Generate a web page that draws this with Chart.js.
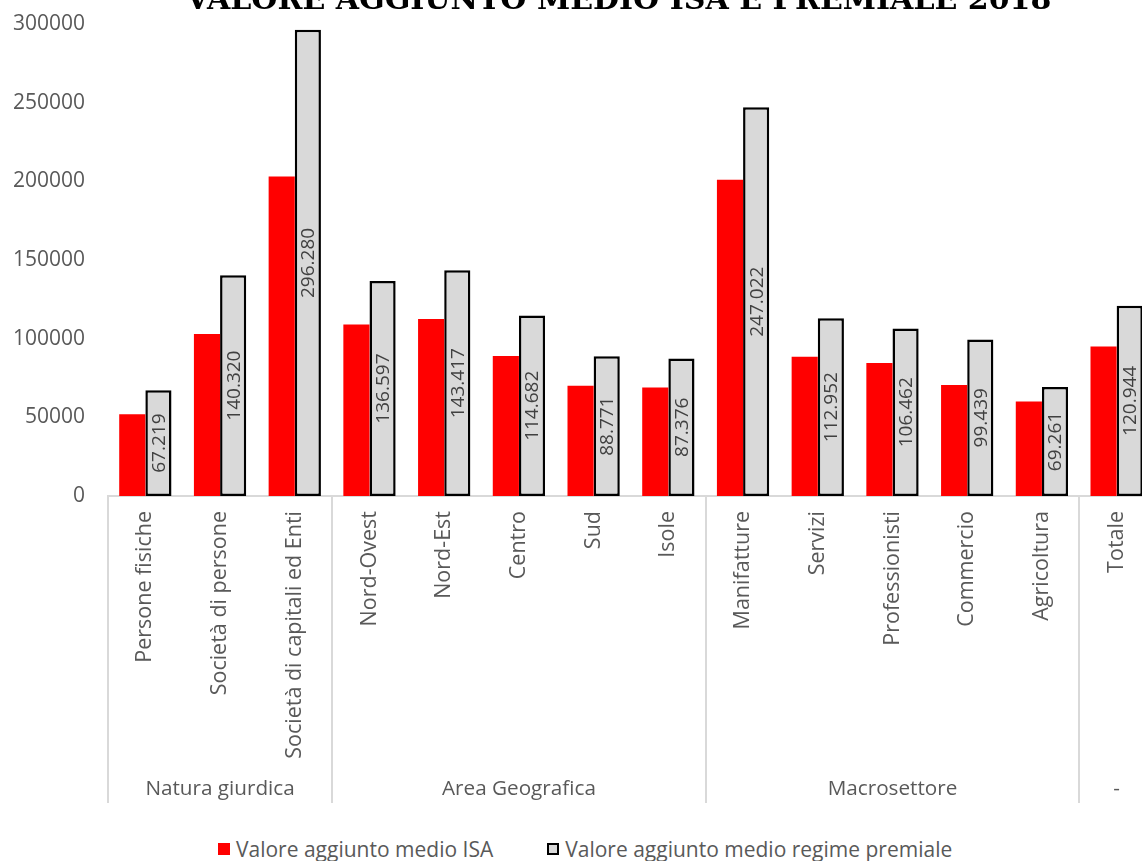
<!DOCTYPE html>
<html lang="it">
<head>
<meta charset="utf-8">
<title>Valore aggiunto medio ISA e premiale 2018</title>
<script src="https://cdn.jsdelivr.net/npm/chart.js@4.4.1/dist/chart.umd.min.js"></script>
<style>
    html, body {
        margin: 0;
        padding: 0;
        background: #ffffff;
        overflow: hidden;
        width: 1142px;
        height: 861px;
    }
    .chart-title {
        position: absolute;
        left: 186px;
        top: -16px;
        font-family: "DejaVu Serif", "Liberation Serif", serif;
        font-weight: bold;
        font-size: 30px;
        line-height: 30px;
        color: #000000;
        white-space: nowrap;
    }
    .chart-wrap {
        position: absolute;
        left: 0;
        top: 0;
    }
    .legend {
        position: absolute;
        left: 218px;
        top: 834px;
        font-family: "Open Sans", sans-serif;
        font-size: 21px;
        line-height: 26px;
        color: #595959;
        white-space: nowrap;
    }
    .legend span.item {
        display: inline-flex;
        align-items: center;
    }
    .legend span.item + span.item {
        margin-left: 54px;
    }
    .legend .box {
        display: inline-block;
        width: 12px;
        height: 12px;
        margin-right: 6px;
        box-sizing: border-box;
    }
    .legend .box.isa {
        background: #ff0000;
    }
    .legend .box.premiale {
        background: #d9d9d9;
        border: 2.5px solid #000000;
    }
</style>
</head>
<body>
<div class="chart-wrap">
    <canvas id="valoreChart" width="1160" height="830"></canvas>
</div>
<div class="chart-title" id="chartTitle">VALORE AGGIUNTO MEDIO ISA E PREMIALE 2018</div>
<div class="legend">
    <span class="item"><span class="box isa"></span>Valore aggiunto medio ISA</span><span class="item"><span class="box premiale"></span>Valore aggiunto medio regime premiale</span>
</div>

<script>
// Categories and their groups
const categories = [
    'Persone fisiche', 'Società di persone', 'Società di capitali ed Enti',
    'Nord-Ovest', 'Nord-Est', 'Centro', 'Sud', 'Isole',
    'Manifatture', 'Servizi', 'Professionisti', 'Commercio', 'Agricoltura',
    'Totale'
];
const groupLabels = ['Natura giurdica', 'Area Geografica', 'Macrosettore', '-'];
const groupSizes = [3, 5, 5, 1];

// Series values
const valoreISA = [52000, 103000, 203000, 109000, 112500, 89000, 70000, 69000, 201000, 88500, 84500, 70500, 60000, 95000];
const valorePremiale = [67219, 140320, 296280, 136597, 143417, 114682, 88771, 87376, 247022, 112952, 106462, 99439, 69261, 120944];

// Y axis ticks
const yTicks = [0, 50000, 100000, 150000, 200000, 250000, 300000];

const textColor = '#595959';
const lineColor = '#d9d9d9';

// Stretch the title to its usual width (866px)
const titleEl = document.getElementById('chartTitle');
titleEl.style.fontSize = (30 * 866 / titleEl.getBoundingClientRect().width) + 'px';

// 67219 -> "67.219"
function formatIt(v) {
    return String(Math.round(v)).replace(/\B(?=(\d{3})+(?!\d))/g, '.');
}

// Value labels written vertically inside the grey bars
const valueLabelsPlugin = {
    id: 'valueLabels',
    afterDatasetsDraw(chart) {
        const ctx = chart.ctx;
        const meta = chart.getDatasetMeta(1);
        ctx.save();
        ctx.font = '19px "Open Sans", sans-serif';
        ctx.fillStyle = '#404040';
        ctx.textAlign = 'center';
        ctx.textBaseline = 'middle';
        meta.data.forEach((bar, i) => {
            const midY = (bar.y + bar.base) / 2;
            ctx.save();
            ctx.translate(bar.x, midY);
            ctx.rotate(-Math.PI / 2);
            ctx.fillText(formatIt(valorePremiale[i]), 0, 1);
            ctx.restore();
        });
        ctx.restore();
    }
};

// Second level of the category axis: group separators and names
const groupAxisPlugin = {
    id: 'groupAxis',
    afterDraw(chart) {
        const ctx = chart.ctx;
        const area = chart.chartArea;
        const step = (area.right - area.left) / categories.length;
        const lineBottom = 803;
        ctx.save();
        ctx.strokeStyle = lineColor;
        ctx.lineWidth = 2;
        let start = 0;
        const bounds = [0];
        groupSizes.forEach(n => { start += n; bounds.push(start); });
        bounds.forEach(b => {
            const px = Math.round(area.left + b * step);
            ctx.beginPath();
            ctx.moveTo(px, area.bottom);
            ctx.lineTo(px, lineBottom);
            ctx.stroke();
        });
        ctx.font = '20.7px "Open Sans", sans-serif';
        ctx.fillStyle = textColor;
        ctx.textAlign = 'center';
        ctx.textBaseline = 'middle';
        start = 0;
        groupSizes.forEach((n, g) => {
            const cx = area.left + (start + n / 2) * step;
            ctx.fillText(groupLabels[g], cx, 789);
            start += n;
        });
        ctx.restore();
    }
};

const valoreChart = new Chart(document.getElementById('valoreChart'), {
    type: 'bar',
    data: {
        labels: categories,
        datasets: [{
            label: 'Valore aggiunto medio ISA',
            data: valoreISA,
            backgroundColor: '#ff0000',
            borderWidth: 0,
            categoryPercentage: 0.7,
            barPercentage: 1.0
        },
        {
            label: 'Valore aggiunto medio regime premiale',
            data: valorePremiale,
            backgroundColor: '#d9d9d9',
            borderColor: '#000000',
            borderWidth: 2.5,
            borderSkipped: false,
            categoryPercentage: 0.7,
            barPercentage: 1.0
        }]
    },
    options: {
        responsive: false,
        animation: false,
        layout: {
            padding: { top: 24, right: 6, left: 0, bottom: 0 }
        },
        plugins: {
            legend: { display: false },
            title: { display: false },
            tooltip: { enabled: false }
        },
        scales: {
            x: {
                grid: { display: false, drawTicks: false },
                border: { display: true, color: lineColor, width: 2 },
                ticks: {
                    minRotation: 90,
                    maxRotation: 90,
                    autoSkip: false,
                    padding: 15,
                    color: textColor,
                    font: { family: '"Open Sans", sans-serif', size: 21.5 }
                },
                afterFit(scale) {
                    scale.height = 334;
                }
            },
            y: {
                min: 0,
                max: 300000,
                // tick marks hidden; their length keeps the labels off the bars
                grid: { display: false, drawTicks: true, tickLength: 20 },
                border: { display: false },
                afterBuildTicks(scale) {
                    scale.ticks = yTicks.map(v => ({ value: v }));
                },
                ticks: {
                    padding: 3,
                    color: textColor,
                    font: { family: '"Open Sans", sans-serif', size: 21 },
                    callback: value => String(value)
                },
                afterFit(scale) {
                    scale.width = 108;
                }
            }
        }
    },
    plugins: [valueLabelsPlugin, groupAxisPlugin]
});
</script>
</body>
</html>
